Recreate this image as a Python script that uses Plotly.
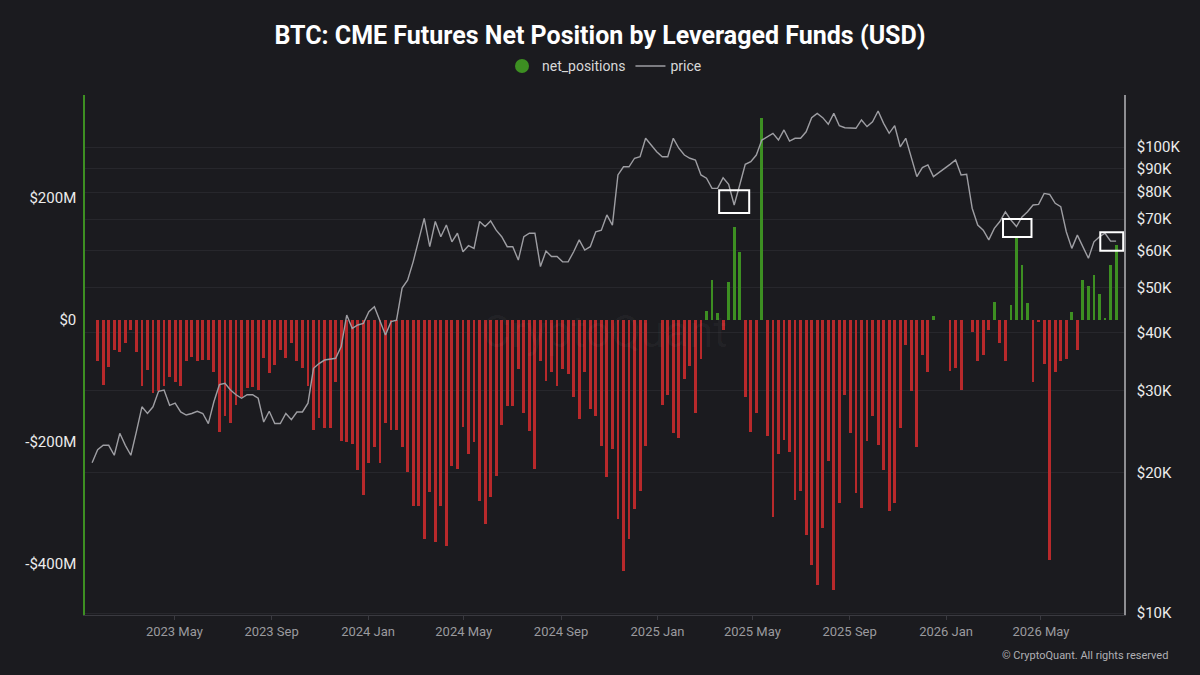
import pandas as pd
import plotly.graph_objects as go

BG = "#1b1b1f"
GREEN = "#3d8f22"
RED = "#b8292b"
PRICE_GREY = "#9e9ea3"

# weekly CFTC report dates (Tuesdays)
bar_dates = pd.date_range("2023-01-24", periods=185, freq="7D")

# leveraged funds net position, USD millions (None = no report)
net_positions_m = [
    -68, -107, -77, -49, -52, -38, -16, -52, -109, -82,
    -120, -117, -109, -93, -101, -109, -68, -60, -68, -66,
    -66, -85, -183, -158, -169, -139, -126, -112, -110, -115,
    -63, -87, -74, -49, -63, -38, -68, -79, -109, -180,
    -161, -178, -178, -101, -199, -201, -203, -246, -287, -235,
    -208, -235, -169, -180, -180, -208, -250, -305, -305, -360,
    -283, -365, -305, -371, -239, -245, -176, -220, -201, -297,
    -335, -291, -256, -172, -141, -141, -81, -152, -182, -245,
    -67, -100, -85, -108, -81, -89, -127, -163, -86, -146,
    -157, -207, -258, -212, -327, -411, -359, -310, -280, -207,
    None, None, -139, -123, -185, -193, -97, -75, -153, -64,
    14, 66, 11, -16, 62, 153, 111, -126, -184, -153,
    331, -191, -324, -220, -197, -216, -295, -281, -352, -402,
    -434, -341, -232, -443, -300, -123, -186, -284, -309, -199,
    -158, -205, -246, -314, -301, -178, -41, -117, -208, -57,
    -85, 7, None, None, -84, -79, -115, None, -19, -68,
    -57, -16, 29, -38, -68, 25, 134, 90, 27, -101,
    -4, -73, -393, -86, -67, -64, 13, -49, 66, 55,
    74, 43, 2, 90, 123,
]

price_dates = pd.date_range("2023-01-17", periods=186, freq="7D")

# BTC price, USD thousands
price_k = [
    21.0, 22.4, 22.9, 22.9, 21.8, 24.3, 22.9, 21.8, 24.5, 27.7,
    26.8, 27.7, 29.9, 30.1, 27.9, 28.2, 27.0, 26.6, 26.8, 27.1,
    26.8, 25.5, 28.4, 30.9, 31.1, 30.1, 29.4, 28.9, 29.4,
    29.4, 28.9, 25.7, 27.1, 25.5, 25.5, 26.8, 26.0, 27.0, 27.0,
    28.2, 33.5, 34.3, 34.9, 35.0, 35.2, 37.3, 43.6, 40.8, 41.5,
    41.8, 44.3, 45.4, 42.5, 39.5, 42.2, 42.5, 49.8,
    51.8, 56.7, 63.2, 70.3, 61.1, 69.2, 64.2, 68.0, 62.6, 65.3,
    59.6, 61.4, 60.6, 69.2, 67.5, 69.4, 66.3, 64.2, 61.1, 61.1,
    57.2, 64.2, 65.3, 65.3, 55.4, 59.8, 58.2, 58.2,
    56.7, 56.7, 59.6, 63.2, 60.1, 61.1, 65.8, 66.3, 71.5, 68.0,
    87.1, 90.7, 90.7, 94.6, 95.3, 104.4, 101.0, 97.7, 95.3, 95.3,
    104.4, 99.4, 96.1, 94.6, 93.8, 87.1, 85.7, 81.5,
    81.5, 85.9, 83.2, 75.1, 82.9, 91.8, 93.0, 96.1, 103.5, 105.2,
    107.0, 103.5, 108.8, 103.0, 104.4, 104.4, 107.8, 115.6, 118.1, 115.6,
    111.9, 118.1, 111.1, 110.0, 109.7, 109.7, 114.3, 110.6,
    113.3, 119.5, 112.4, 107.0, 111.1, 100.1, 104.4, 94.6, 86.4, 90.3,
    91.5, 86.4, 88.3, 90.0, 91.8, 93.8, 87.1, 87.4, 73.9, 68.0,
    66.3, 63.2, 66.9, 69.2, 72.6, 69.7, 67.5, 70.8,
    72.6, 75.1, 75.3, 79.5, 79.1, 75.7, 74.5, 65.8, 60.6, 64.7,
    61.1, 57.7, 62.6, 64.2, 65.3, 62.8, 62.8,
]

left_ticks = [-400e6, -200e6, 0, 200e6]
left_labels = ["-$400M", "-$200M", "$0", "$200M"]
right_ticks = [10e3, 20e3, 30e3, 40e3, 50e3, 60e3, 70e3, 80e3, 90e3, 100e3]
right_labels = ["$10K", "$20K", "$30K", "$40K", "$50K", "$60K", "$70K", "$80K", "$90K", "$100K"]

# highlighted spots: (start, end, low price, high price)
boxes = [
    ("2025-03-20", "2025-04-27", 72.2e3, 80.8e3),
    ("2026-03-14", "2026-04-19", 64.1e3, 70.1e3),
    ("2026-07-15", "2026-08-13", 59.9e3, 65.6e3),
]

net_usd = [None if v is None else v * 1e6 for v in net_positions_m]
bar_colors = [GREEN if (v is not None and v >= 0) else RED for v in net_positions_m]

fig = go.Figure()
fig.add_trace(go.Bar(
    x=bar_dates, y=net_usd, name="net_positions",
    marker=dict(color=bar_colors, line_width=0),
    width=3.6 * 86400000, showlegend=False,
))
# legend stand-in so the entry shows a round marker
fig.add_trace(go.Scatter(
    x=[None], y=[None], mode="markers", name="net_positions",
    marker=dict(color=GREEN, size=14, symbol="circle"),
))
fig.add_trace(go.Scatter(
    x=price_dates, y=[p * 1000 for p in price_k], name="price",
    mode="lines", line=dict(color=PRICE_GREY, width=1.4), yaxis="y2",
))

for x0, x1, lo, hi in boxes:
    fig.add_shape(type="rect", xref="x", yref="y2", x0=x0, x1=x1, y0=lo, y1=hi,
                  line=dict(color="white", width=2), fillcolor="rgba(0,0,0,0)")

fig.update_layout(
    width=1200, height=675,
    paper_bgcolor=BG, plot_bgcolor=BG,
    font=dict(family="Roboto, Noto Sans, sans-serif", color="#e6e6e6"),
    margin=dict(l=85, r=76, t=95, b=60),
    title=dict(text="<b>BTC: CME Futures Net Position by Leveraged Funds (USD)</b>",
               x=0.5, xanchor="center", y=0.948, yanchor="middle",
               font=dict(size=25, color="white")),
    legend=dict(orientation="h", x=0.5, xanchor="center", y=1.055, yanchor="middle",
                font=dict(size=14, color="#d8d8d8"), bgcolor="rgba(0,0,0,0)",
                itemwidth=30),
    bargap=0,
    xaxis=dict(
        type="date", range=["2023-01-08", "2026-08-14"],
        tick0="2023-01-01", dtick="M4", tickformat="%Y %b",
        showgrid=False, zeroline=False,
        showline=True, linecolor="#3a3a40", linewidth=1,
        ticks="outside", ticklen=4, tickcolor="#3a3a40",
        tickfont=dict(size=13, color="#9a9a9e"),
    ),
    yaxis=dict(
        range=[-484e6, 369e6], tickvals=left_ticks, ticktext=left_labels,
        showgrid=False, zeroline=False,
        showline=True, linecolor=GREEN, linewidth=1.5,
        tickfont=dict(size=15, color="#ececec"), ticklen=4, ticks="outside",
        tickcolor=BG,
    ),
    yaxis2=dict(
        type="log", overlaying="y", side="right",
        range=[3.9957, 5.1116], tickvals=right_ticks, ticktext=right_labels,
        showgrid=True, gridcolor="#27272c", gridwidth=1, zeroline=False,
        showline=True, linecolor="#8e8e92", linewidth=1.5,
        tickfont=dict(size=15, color="#ececec"), ticks="outside", ticklen=8,
        tickcolor=BG,
    ),
)

fig.add_annotation(text="CryptoQuant", xref="paper", yref="paper", x=0.5, y=0.545,
                   showarrow=False, font=dict(size=44, color="rgba(255,255,255,0.035)"))
fig.add_annotation(text="© CryptoQuant. All rights reserved", xref="paper", yref="paper",
                   x=1.044, y=-0.077, xanchor="right", yanchor="middle", showarrow=False,
                   font=dict(size=11, color="#b0b0b4"))

fig.write_html("out.html", config={"displayModeBar": False},
               post_script="document.body.style.margin='0';"
               "document.body.style.background='" + BG + "';")
